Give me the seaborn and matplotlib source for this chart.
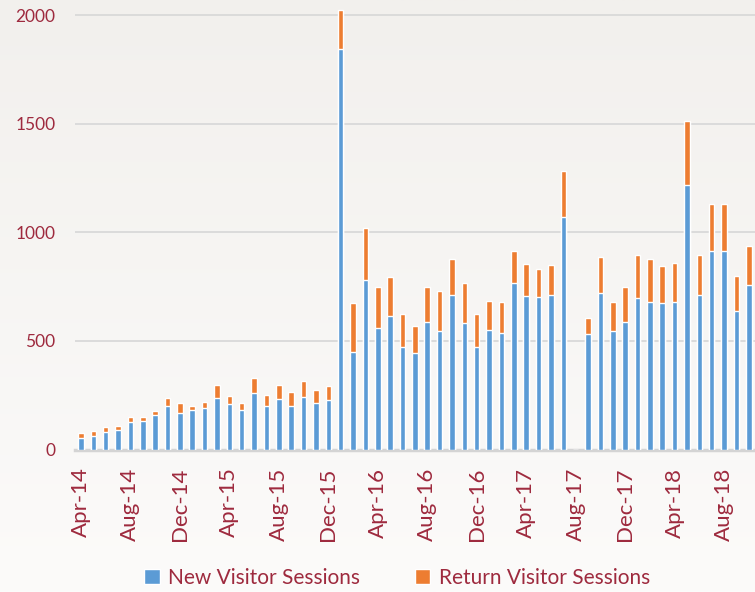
import numpy as np
import pandas as pd
import matplotlib
matplotlib.use("Agg")
import matplotlib.pyplot as plt
import seaborn as sns

# monthly sessions, Apr-14 .. Oct-18 (Aug-17 missing)
months = list(pd.date_range("2014-04-01", periods=55, freq="MS").strftime("%b-%y"))
new_sessions = [55, 64, 82, 88, 128, 131, 158, 202, 170, 183, 193, 236, 211, 181, 262, 202, 234, 202, 243, 213, 227,
                1844, 451, 780, 558, 617, 471, 445, 586, 545, 710, 584, 471, 551, 535, 766, 706, 700, 710, 1071, 0,
                534, 723, 546, 589, 697, 681, 674, 681, 1216, 710, 916, 916, 640, 758]
return_sessions = [21, 21, 23, 22, 23, 20, 18, 37, 43, 16, 27, 60, 34, 33, 66, 51, 62, 64, 74, 60, 66,
                   181, 224, 241, 191, 176, 153, 124, 163, 184, 168, 183, 153, 135, 143, 149, 149, 129, 141, 212, 0,
                   71, 163, 134, 161, 201, 198, 172, 177, 298, 185, 215, 215, 160, 181]
yticks = [0, 500, 1000, 1500, 2000]

df = pd.DataFrame({"Month": months, "New": new_sessions, "Return": return_sessions})
df["Total"] = df["New"] + df["Return"]

blue = "#5B9BD5"
orange = "#ED7D31"
txt = "#9E2A3E"

sns.set_style("white")
plt.rcParams["font.family"] = ["Lato", "DejaVu Sans"]

fig = plt.figure(figsize=(7.55, 5.92), dpi=100)

# soft background gradient
bg = fig.add_axes([0, 0, 1, 1], zorder=-1)
grad = np.linspace(0, 1, 256).reshape(-1, 1)
bg.imshow(grad, aspect="auto", cmap=matplotlib.colors.LinearSegmentedColormap.from_list(
    "bg", ["#F2F0ED", "#FCFBFA"]), extent=[0, 1, 0, 1])
bg.axis("off")

ax = fig.add_axes([0.099, 0.2407, 0.901, 0.7593])
ax.set_facecolor("none")

sns.barplot(data=df, x="Month", y="Total", color=orange, width=0.45, errorbar=None,
            saturation=1, label="Return Visitor Sessions", ax=ax, zorder=3)
sns.barplot(data=df, x="Month", y="New", color=blue, width=0.45, errorbar=None,
            saturation=1, label="New Visitor Sessions", ax=ax, zorder=3)

ax.set_xlim(-0.5, 54.5)
ax.set_ylim(0, 2070)
ax.set_yticks(yticks)
ax.set_yticklabels([str(v) for v in yticks], color=txt, fontsize=12.5)
ax.set_xticks(range(0, 55, 4))
ax.set_xticklabels(months[::4], rotation=90, color=txt, fontsize=16)
ax.tick_params(axis="y", length=0, pad=14)
ax.tick_params(axis="x", length=0, pad=13)
ax.set_xlabel("")
ax.set_ylabel("")
ax.grid(axis="y", color="#D9D9D9", linewidth=1.3, zorder=0)
ax.set_axisbelow(True)
for s in ["left", "right", "top"]:
    ax.spines[s].set_visible(False)
ax.spines["bottom"].set_color("#D4D4D4")
ax.spines["bottom"].set_linewidth(2.5)

handles, labels = ax.get_legend_handles_labels()
order = [labels.index("New Visitor Sessions"), labels.index("Return Visitor Sessions")]
if ax.get_legend():
    ax.get_legend().remove()
leg = fig.legend([handles[i] for i in order], [labels[i] for i in order],
                 loc="center", bbox_to_anchor=(0.526, 0.024), ncol=2, frameon=False,
                 fontsize=15, handlelength=0.75, handleheight=0.75, handletextpad=0.4,
                 columnspacing=2.6)
for t in leg.get_texts():
    t.set_color(txt)

fig.savefig("out.png", dpi=100)
